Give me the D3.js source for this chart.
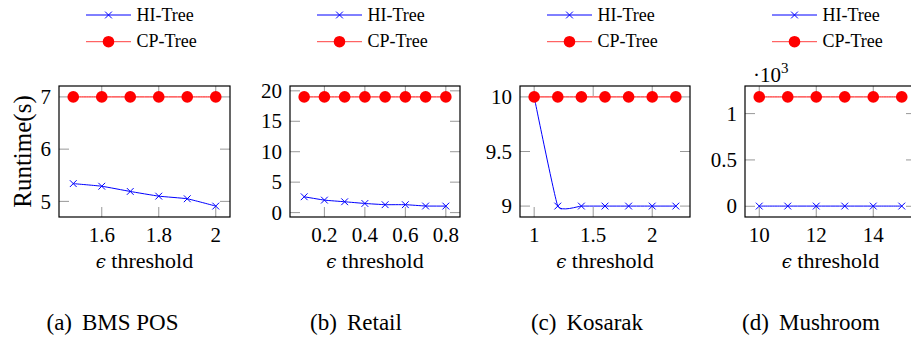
<!DOCTYPE html>
<html>
<head>
<meta charset="utf-8">
<script src="https://cdn.jsdelivr.net/npm/d3@7"></script>
<style>
  html, body { margin: 0; padding: 0; background: #fff; }
  svg { display: block; }
</style>
</head>
<body>
<svg id="chart" width="911" height="339" font-family="'Liberation Serif', Tinos, 'Times New Roman', Times, 'Nimbus Roman', 'DejaVu Serif', serif"></svg>
<script>
// ---------- data ----------
const seriesNames = ["HI-Tree", "CP-Tree"];

const bmsX = [1.5, 1.6, 1.7, 1.8, 1.9, 2.0];
const bmsHI = [5.34, 5.29, 5.19, 5.10, 5.05, 4.91];
const bmsCP = [7, 7, 7, 7, 7, 7];
const bmsXTicks = [1.6, 1.8, 2];
const bmsYTicks = [5, 6, 7];

const retailX = [0.1, 0.2, 0.3, 0.4, 0.5, 0.6, 0.7, 0.8];
const retailHI = [2.6, 2.05, 1.78, 1.5, 1.3, 1.3, 1.08, 1.07];
const retailCP = [19, 19, 19, 19, 19, 19, 19, 19];
const retailXTicks = [0.2, 0.4, 0.6, 0.8];
const retailYTicks = [0, 5, 10, 15, 20];

const kosarakX = [1.0, 1.2, 1.4, 1.6, 1.8, 2.0, 2.2];
const kosarakHI = [10, 9, 9, 9, 9, 9, 9];
const kosarakCP = [10, 10, 10, 10, 10, 10, 10];
const kosarakXTicks = [1, 1.5, 2];
const kosarakYTicks = [9, 9.5, 10];

const mushX = [10, 11, 12, 13, 14, 15];
const mushHI = [2, 2, 2, 2, 2, 2];
const mushCP = [1180, 1180, 1180, 1180, 1180, 1180];
const mushXTicks = [10, 12, 14];
const mushYTicks = [0, 500, 1000];

const captions = [["(a)", "BMS POS"], ["(b)", "Retail"], ["(c)", "Kosarak"], ["(d)", "Mushroom"]];
const xLabel = "threshold";
const yLabel = "Runtime(s)";

// ---------- layout ----------
const panels = [
  { x: bmsX, hi: bmsHI, cp: bmsCP, xt: bmsXTicks, yt: bmsYTicks, left: 59, right: 230, cap: captions[0], capX: 112.5, yfmt: d => String(d) },
  { x: retailX, hi: retailHI, cp: retailCP, xt: retailXTicks, yt: retailYTicks, left: 290, right: 460, cap: captions[1], capX: 356, yfmt: d => String(d) },
  { x: kosarakX, hi: kosarakHI, cp: kosarakCP, xt: kosarakXTicks, yt: kosarakYTicks, left: 520, right: 690, cap: captions[2], capX: 587, yfmt: d => String(d) },
  { x: mushX, hi: mushHI, cp: mushCP, xt: mushXTicks, yt: mushYTicks, left: 745, right: 916, cap: captions[3], capX: 811, yfmt: d => String(d / 1000), scaleLabel: true }
];
const boxTop = 86, boxBottom = 217;
const tickLen = 10;
const tickColor = "#8c8c8c";
const blue = "#0000ff", red = "#ff0000";

const svg = d3.select("#chart");

function enlarged(vals) {
  const mn = d3.min(vals), mx = d3.max(vals);
  const r = mx - mn;
  return [mn - 0.1 * r, mx + 0.1 * r];
}

function crossPath(s) {
  return `M${-s},${-s}L${s},${s}M${-s},${s}L${s},${-s}`;
}

panels.forEach((p, i) => {
  const g = svg.append("g");
  const x = d3.scaleLinear().domain(enlarged(p.x)).range([p.left, p.right]);
  const y = d3.scaleLinear().domain(enlarged(p.hi.concat(p.cp))).range([boxBottom, boxTop]);

  // ticks (inward, all four sides)
  const tg = g.append("g").attr("stroke", tickColor).attr("stroke-width", 0.9);
  p.xt.forEach(t => {
    tg.append("line").attr("x1", x(t)).attr("x2", x(t)).attr("y1", boxBottom).attr("y2", boxBottom - tickLen);
    tg.append("line").attr("x1", x(t)).attr("x2", x(t)).attr("y1", boxTop).attr("y2", boxTop + tickLen);
  });
  p.yt.forEach(t => {
    tg.append("line").attr("x1", p.left).attr("x2", p.left + tickLen).attr("y1", y(t)).attr("y2", y(t));
    tg.append("line").attr("x1", p.right).attr("x2", p.right - tickLen).attr("y1", y(t)).attr("y2", y(t));
  });

  // tick labels
  p.xt.forEach(t => {
    g.append("text").attr("x", x(t)).attr("y", 241.5).attr("text-anchor", "middle")
      .attr("font-size", 21).text(String(t));
  });
  p.yt.forEach(t => {
    g.append("text").attr("x", p.left - 8).attr("y", y(t)).attr("dy", "0.34em").attr("text-anchor", "end")
      .attr("font-size", 21).text(p.yfmt(t));
  });

  // lines
  const pts = (ys) => p.x.map((v, k) => [x(v), y(ys[k])]);
  const line = d3.line().curve(d3.curveCardinal.tension(0.65));
  g.append("path").attr("d", line(pts(p.hi))).attr("fill", "none").attr("stroke", blue).attr("stroke-width", 1);
  g.selectAll(".hx").data(pts(p.hi)).join("path")
    .attr("transform", d => `translate(${d[0]},${d[1]})`)
    .attr("d", crossPath(3.4)).attr("stroke", blue).attr("stroke-width", 1).attr("fill", "none");
  g.append("path").attr("d", line(pts(p.cp))).attr("fill", "none").attr("stroke", red).attr("stroke-width", 1);
  g.selectAll(".cc").data(pts(p.cp)).join("circle")
    .attr("cx", d => d[0]).attr("cy", d => d[1]).attr("r", 5.8).attr("fill", red);

  // frame
  g.append("rect").attr("x", p.left).attr("y", boxTop).attr("width", p.right - p.left).attr("height", boxBottom - boxTop)
    .attr("fill", "none").attr("stroke", "#000").attr("stroke-width", 1.2);

  // x label
  const xl = g.append("text").attr("x", (p.left + p.right) / 2).attr("y", 268).attr("text-anchor", "middle")
    .attr("font-size", 22);
  xl.append("tspan").attr("font-family", "DejaVu Serif").attr("font-style", "italic").attr("font-size", 18).text("\u03F5");
  xl.append("tspan").text(" " + xLabel);

  // caption
  const cap = g.append("text").attr("x", p.capX).attr("y", 330).attr("text-anchor", "middle").attr("font-size", 23);
  cap.append("tspan").text(p.cap[0]);
  cap.append("tspan").attr("dx", 10).text(p.cap[1]);

  // legend
  const lx = p.left + 27;
  const rows = [{ name: seriesNames[0], y: 15, c: blue, m: "x" }, { name: seriesNames[1], y: 41.7, c: red, m: "o" }];
  rows.forEach(r => {
    g.append("line").attr("x1", lx).attr("x2", lx + 45).attr("y1", r.y).attr("y2", r.y)
      .attr("stroke", r.c).attr("stroke-width", 1).attr("stroke-opacity", r.m === "o" ? 0.75 : 1);
    if (r.m === "x") {
      g.append("path").attr("transform", `translate(${lx + 22.5},${r.y})`).attr("d", crossPath(3.4))
        .attr("stroke", r.c).attr("stroke-width", 1);
    } else {
      g.append("circle").attr("cx", lx + 22.5).attr("cy", r.y).attr("r", 5.8).attr("fill", r.c);
    }
    g.append("text").attr("x", lx + 50.5).attr("y", r.y + 5.5).attr("font-size", 18).text(r.name);
  });

  // y label (first panel only)
  if (i === 0) {
    g.append("text").attr("transform", `translate(31,${(boxTop + boxBottom) / 2}) rotate(-90)`)
      .attr("text-anchor", "middle").attr("font-size", 25).text(yLabel);
  }
  if (p.scaleLabel) {
    const s = g.append("text").attr("x", p.left + 8).attr("y", 81.5).attr("font-size", 21);
    s.append("tspan").text("\u00B710");
    s.append("tspan").attr("font-size", 15).attr("dy", -9).text("3");
  }
});
</script>
</body>
</html>
